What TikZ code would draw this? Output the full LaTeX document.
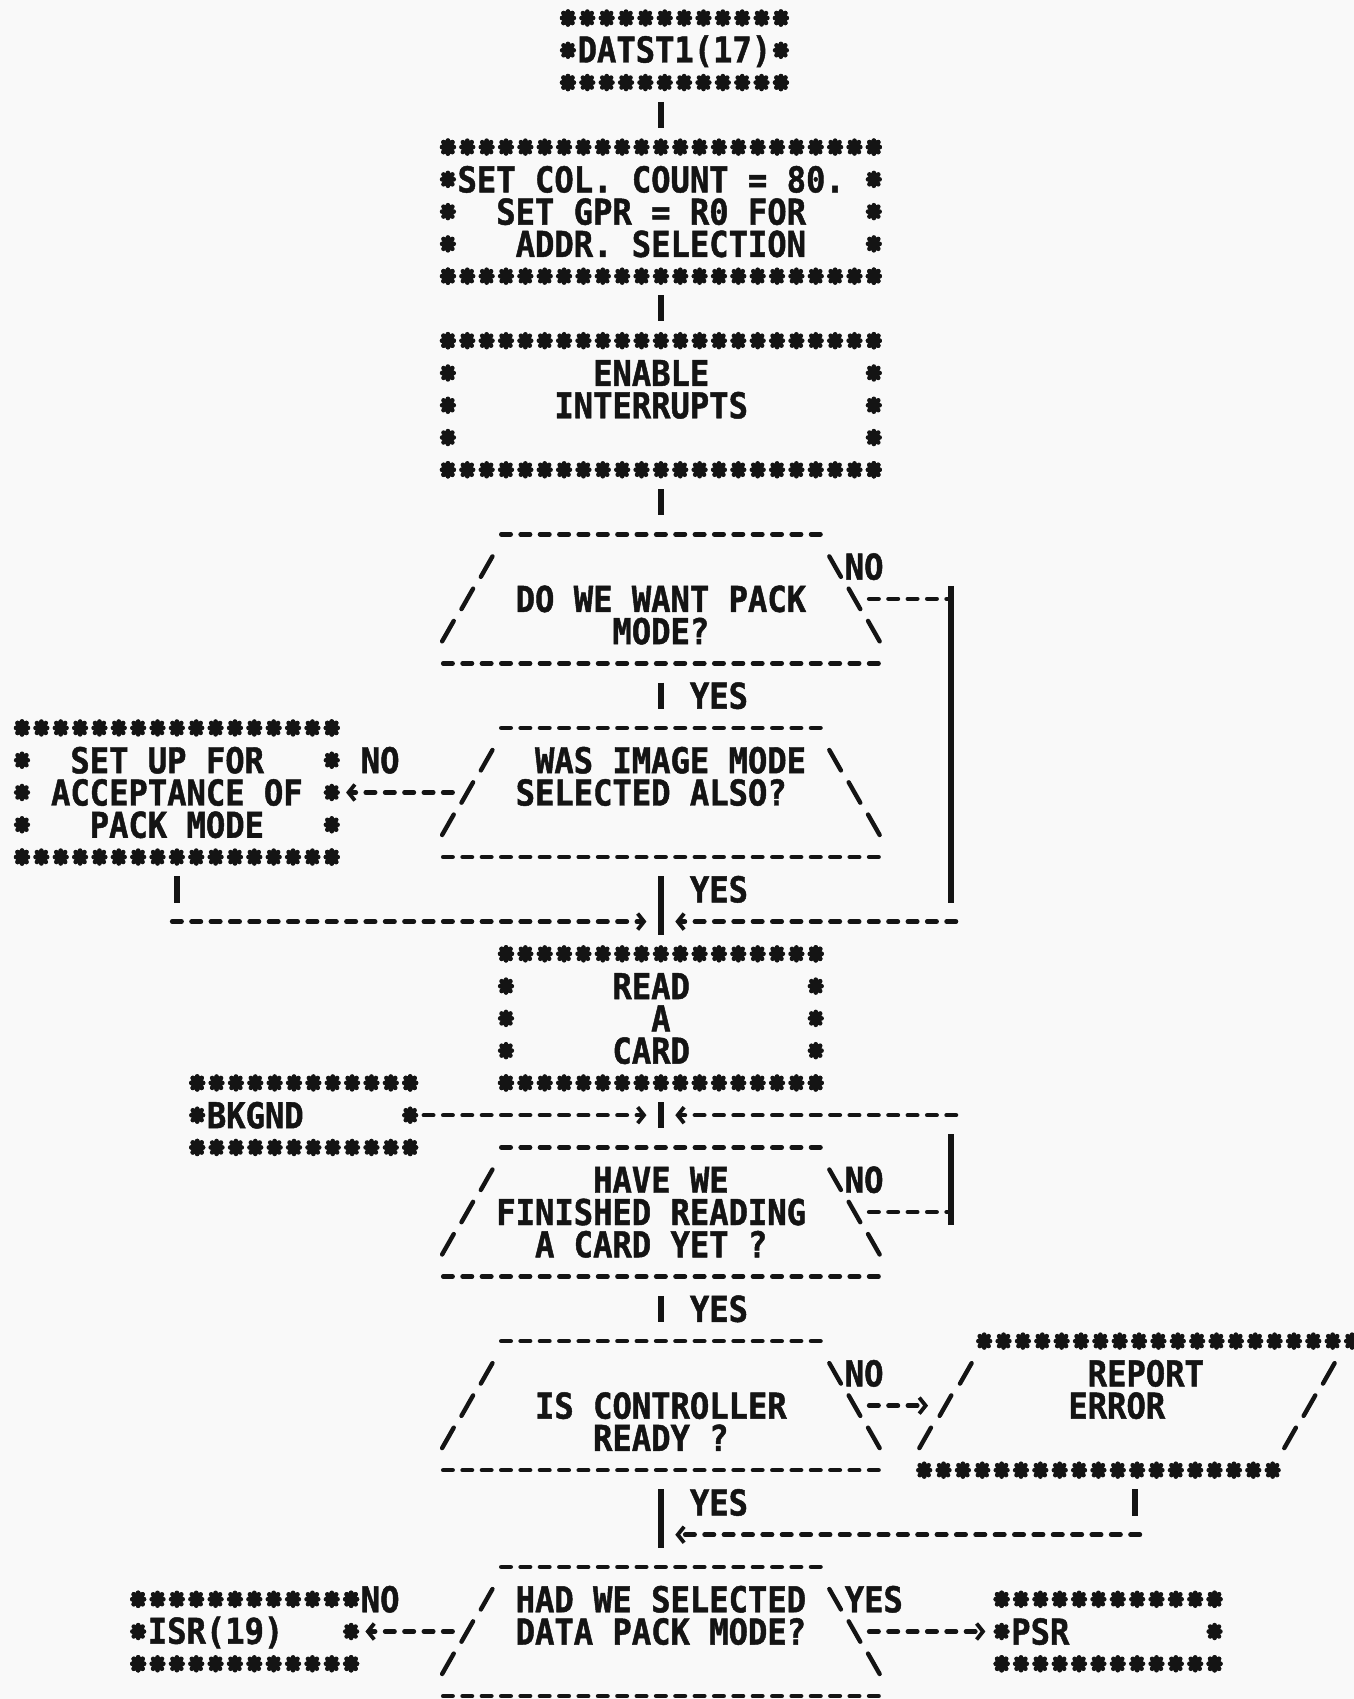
\documentclass[tikz,border=0pt]{standalone}
\usepackage{fontspec}
\usetikzlibrary{arrows.meta}
\newfontfamily\ascfam[FakeStretch=0.9033, BoldFeatures={FakeBold=1.3}]{DejaVu Sans Mono}
\newcommand\ascf{\ascfam\bfseries\fontsize{17.8pt}{16.135pt}\selectfont\frenchspacing}
\newdimen\cw \cw=9.68pt
\newcommand\ls{\spaceskip=9.68pt\xspaceskip=9.68pt\rule[-1.55pt]{0pt}{16.1pt}}
\definecolor{ink}{RGB}{20,20,20}
\definecolor{paper}{RGB}{249,249,249}
\tikzset{
 st/.pic={\draw[ink, line width=2.35pt, line cap=round] (0pt,-3.2pt) -- (0pt,3.2pt) (-2.9pt,0pt) -- (2.9pt,0pt) (-2.2pt,-2.45pt) -- (2.2pt,2.45pt) (-2.2pt,2.45pt) -- (2.2pt,-2.45pt);},
 txt/.style={inner sep=0pt, outer sep=0pt, font=\ascf, text=ink},
 box/.style={txt, rectangle, align=left},
 dec/.style={box, minimum width=203.28pt, minimum height=73.04pt, text width=203.28pt},
 hd/.style={draw=ink, line width=2.3pt, line cap=round, dash pattern=on 4.7pt off 4.98pt},
 vl/.style={draw=ink, line width=2.8pt, shorten <=5.4pt, shorten >=5.4pt},
 sl/.style={draw=ink, line width=2.2pt, line cap=round},
 arr/.style={-{Straight Barb[length=3.2pt,width=8pt,line width=1.9pt]}},
}
\newcommand\starrow[3]{%
  \pgfmathtruncatemacro\nst{round((#2)-(#1))}%
  \foreach \k in {0,...,\nst}{\pic at ({#1+\k},#3) {st};}%
}
\newcommand\starbox[4]{%
  \starrow{#1}{#2}{#3}\starrow{#1}{#2}{#4}%
  \foreach \rr in {#3,...,#4}{\pic at (#1,\rr) {st}; \pic at (#2,\rr) {st};}%
}
\newcommand\decoutline[1]{%
  \draw[hd, shorten <=-2.35pt, shorten >=-2.35pt] (25,#1) -- (41,#1);
  \draw[hd, shorten <=-2.35pt, shorten >=-2.35pt] (22,{#1+4}) -- (44,{#1+4});
  \foreach \i in {1,2,3}{%
    \draw[sl] ({25-\i},{#1+\i}) +(-2.9pt,-5.1pt) -- +(2.9pt,5.1pt);
    \draw[sl] ({41+\i},{#1+\i}) +(-2.9pt,5.1pt) -- +(2.9pt,-5.1pt);
  }%
}
\begin{document}
\begin{tikzpicture}[x=9.68pt, y=-16.135pt]
\useasboundingbox (-1.13636,-0.55779) rectangle (68.8017,52.0917);
\fill[paper] (-1.13636,-0.55779) rectangle (68.8017,52.0917);

% ---------- boxes ----------
\node[box, minimum width=113.98pt, minimum height=40.77pt, text width=96.8pt] (start) at (33.7,1) {\ls DATST1(17)};
\starbox{28.2}{39.2}{0}{2}

\node[box, minimum width=220.46pt, minimum height=73.04pt, text width=203.28pt] (setcol) at (33,6)
 {\ls SET COL. COUNT = 80.\\ \ls\hspace*{2\cw}SET GPR = R0 FOR\\ \ls\hspace*{3\cw}ADDR. SELECTION};
\starbox{22}{44}{4}{8}

\node[box, minimum width=220.46pt, minimum height=73.04pt, text width=203.28pt] (enable) at (33,12)
 {\ls\hspace*{7\cw}ENABLE\\ \ls\hspace*{5\cw}INTERRUPTS\\ \ls};
\starbox{22}{44}{10}{14}

\node[dec] (d1) at (33,18) {\ls\\ \ls\hspace*{3\cw}DO WE WANT PACK\\ \ls\hspace*{8\cw}MODE?};
\decoutline{16}

\node[dec] (d2) at (33,24) {\ls\hspace*{4\cw}WAS IMAGE MODE\\ \ls\hspace*{3\cw}SELECTED ALSO?\\ \ls};
\decoutline{22}

\node[box, minimum width=162.38pt, minimum height=73.04pt, text width=145.2pt] (setup) at (8,24)
 {\ls\hspace*{2\cw}SET UP FOR\\ \ls\hspace*{1\cw}ACCEPTANCE OF\\ \ls\hspace*{3\cw}PACK MODE};
\starbox{0}{16}{22}{26}

\node[box, minimum width=162.38pt, minimum height=73.04pt, text width=145.2pt] (read) at (33,31)
 {\ls\hspace*{5\cw}READ\\ \ls\hspace*{7\cw}A\\ \ls\hspace*{5\cw}CARD};
\starbox{25}{41}{29}{33}

\node[box, minimum width=113.98pt, minimum height=40.77pt, text width=96.8pt] (bkgnd) at (14.55,34) {\ls BKGND};
\starbox{9.05}{20.05}{33}{35}

\node[dec] (d3) at (33,37) {\ls\hspace*{7\cw}HAVE WE\\ \ls\hspace*{2\cw}FINISHED READING\\ \ls\hspace*{4\cw}A CARD YET ?};
\decoutline{35}

\node[dec] (d4) at (33,43) {\ls\\ \ls\hspace*{4\cw}IS CONTROLLER\\ \ls\hspace*{7\cw}READY ?};
\decoutline{41}

\node[box, minimum width=198.44pt, minimum height=73.04pt, text width=174.24pt] (report) at (57.05,43)
 {\ls\hspace*{7\cw}REPORT\\ \ls\hspace*{6\cw}ERROR\\ \ls};
\starrow{49.7}{68.7}{41}
\starrow{46.6}{64.6}{45}
\foreach \cx/\ry in {48.75/42, 47.7/43, 46.65/44, 67.5/42, 66.5/43, 65.5/44}{%
  \draw[sl] (\cx,\ry) +(-2.9pt,-5.1pt) -- +(2.9pt,5.1pt);
}

\node[dec] (d5) at (33,50) {\ls\hspace*{3\cw}HAD WE SELECTED\\ \ls\hspace*{3\cw}DATA PACK MODE?\\ \ls};
\decoutline{48}

\node[box, minimum width=113.98pt, minimum height=40.77pt, text width=96.8pt] (isr) at (11.5,50) {\ls ISR(19)};
\starbox{6}{17}{49}{51}

\node[box, minimum width=113.98pt, minimum height=40.77pt, text width=96.8pt] (psr) at (56.1,50) {\ls PSR};
\starbox{50.6}{61.6}{49}{51}

% ---------- labels ----------
\node[txt] (n1) at (43.5,17) {\ls NO};
\node[txt] (y1) at (36,21) {\ls YES};
\node[txt] (n2) at (18.5,23) {\ls NO};
\node[txt] (y2) at (36,27) {\ls YES};
\node[txt] (n3) at (43.5,36) {\ls NO};
\node[txt] (y3) at (36,40) {\ls YES};
\node[txt] (n4) at (43.5,42) {\ls NO};
\node[txt] (y4) at (36,46) {\ls YES};
\node[txt] (n5) at (18.5,49) {\ls NO};
\node[txt] (y5) at (44,49) {\ls YES};

% ---------- junctions / corners ----------
\coordinate (j1) at (33,28);
\coordinate (j2) at (33,34);
\coordinate (j3) at (33,47);
\coordinate (k1) at (48,18);
\coordinate (k2) at (48,28);
\coordinate (k3) at (48,37);
\coordinate (k4) at (48,34);
\coordinate (k5) at (8,28);
\coordinate (k6) at (57.5,47);

% ---------- connectors ----------
\draw[vl] (start.south -| setcol.north) -- (setcol.north);
\draw[vl] (setcol) -- (enable);
\draw[vl] (enable) -- (d1);
\draw[vl] (d1) -- (d2);
\draw[hd, shorten <=2.5pt] (d1.east) -- (k1);
\draw[vl, shorten <=-6.5pt, shorten >=9.5pt] (k1) -- (k2);
\draw[hd, arr, shorten <=-2.35pt, shorten >=7.2pt] (k2) -- (j1);
\draw[hd, arr, shorten <=2.5pt, shorten >=3.4pt] (d2.west) -- (setup.east);
\draw[vl] (d2) -- (read);
\draw[vl, shorten >=9.5pt] (setup) -- (k5);
\draw[hd, arr, shorten <=-2.35pt, shorten >=7.2pt] (k5) -- (j1);
\draw[vl] (read) -- (d3);
\draw[hd, arr, shorten <=3.1pt, shorten >=7.2pt] (bkgnd.east) -- (j2);
\draw[hd, shorten <=2.5pt] (d3.east) -- (k3);
\draw[vl, shorten <=-6.5pt, shorten >=9.5pt] (k3) -- (k4);
\draw[hd, arr, shorten <=-2.35pt, shorten >=7.2pt] (k4) -- (j2);
\draw[vl] (d3) -- (d4);
\draw[hd, arr, shorten <=2.5pt] (d4.east) -- (report.west);
\draw[vl, shorten >=9.5pt] (report.south -| k6) -- (k6);
\draw[hd, arr, shorten <=-2.35pt, shorten >=7.2pt] (k6) -- (j3);
\draw[vl] (d4) -- (d5);
\draw[hd, arr, shorten <=2.5pt, shorten >=3.4pt] (d5.west) -- (isr.east);
\draw[hd, arr, shorten <=2.5pt, shorten >=4.35pt] (d5.east) -- (psr.west);
\end{tikzpicture}
\end{document}
